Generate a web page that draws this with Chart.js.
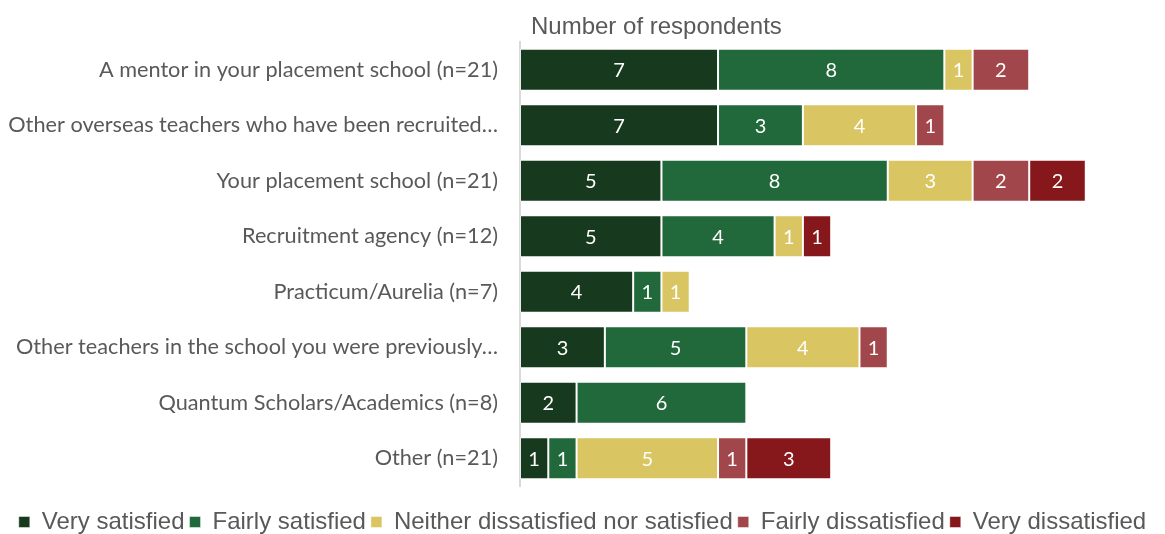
<!DOCTYPE html>
<html>
<head>
<meta charset="utf-8">
<script src="https://cdn.jsdelivr.net/npm/chart.js@4/dist/chart.umd.min.js"></script>
<style>
html,body{margin:0;padding:0;background:#fff;}
#wrap{width:1165px;height:534px;position:relative;}
</style>
</head>
<body>
<div id="wrap"><canvas id="c" width="1165" height="534"></canvas></div>
<script>
const categories = [
  "A mentor in your placement school (n=21)",
  "Other overseas teachers who have been recruited…",
  "Your placement school (n=21)",
  "Recruitment agency (n=12)",
  "Practicum/Aurelia (n=7)",
  "Other teachers in the school you were previously…",
  "Quantum Scholars/Academics (n=8)",
  "Other (n=21)"
];
const seriesNames = ["Very satisfied","Fairly satisfied","Neither dissatisfied nor satisfied","Fairly dissatisfied","Very dissatisfied"];
const verySatisfied    = [7,7,5,5,4,3,2,1];
const fairlySatisfied  = [8,3,8,4,1,5,6,1];
const neither          = [1,4,3,1,1,4,0,5];
const fairlyDissat     = [2,1,2,0,0,1,0,1];
const veryDissat       = [0,0,2,1,0,0,0,3];
const axisTitle = "Number of respondents";

const colors = ["#173a1e","#21683a","#d9c562","#a1474c","#86171a"];
const seriesData = [verySatisfied, fairlySatisfied, neither, fairlyDissat, veryDissat];

const labelPlugin = {
  id: 'segLabels',
  afterDatasetsDraw(chart) {
    const ctx = chart.ctx;
    ctx.save();
    ctx.fillStyle = '#ffffff';
    ctx.font = '20px Lato, "Open Sans", sans-serif';
    ctx.textAlign = 'center';
    ctx.textBaseline = 'middle';
    chart.data.datasets.forEach((ds, i) => {
      const meta = chart.getDatasetMeta(i);
      meta.data.forEach((el, j) => {
        const v = ds.data[j];
        if (!v) return;
        const x = (el.x + el.base) / 2;
        ctx.fillText(String(v), x, el.y + 1);
      });
    });
    ctx.restore();
  }
};
const titlePlugin = {
  id: 'topTitle',
  beforeDraw(chart) {
    if (chart.legend && !chart.legend._shifted) {
      chart.legend.top += 10;
      chart.legend.bottom += 10;
      chart.legend._shifted = true;
    }
  },
  afterLayout(chart) {
    if (chart.legend) chart.legend._shifted = false;
  },
  afterDraw(chart) {
    const ctx = chart.ctx;
    ctx.save();
    ctx.fillStyle = '#595959';
    ctx.font = '24px "Liberation Sans", Arial, sans-serif';
    ctx.textAlign = 'left';
    ctx.textBaseline = 'middle';
    ctx.fillText(axisTitle, chart.chartArea.left + 11, 27);
    ctx.restore();
  }
};

new Chart(document.getElementById('c'), {
  type: 'bar',
  data: {
    labels: categories,
    datasets: seriesNames.map((n, i) => ({
      label: n,
      data: seriesData[i],
      backgroundColor: colors[i],
      borderColor: 'rgba(255,255,255,0.45)',
      borderWidth: 1,
      borderSkipped: false,
      barPercentage: 0.95,
      categoryPercentage: 0.8
    }))
  },
  options: {
    indexAxis: 'y',
    responsive: false,
    animation: false,
    layout: { padding: { top: 42, right: 0, left: 0, bottom: 0 } },
    scales: {
      x: {
        stacked: true, display: true, min: 0, max: 22.8,
        grid: { display: false, drawTicks: false },
        border: { display: false },
        ticks: { display: false },
        afterFit(scale) { scale.height = 9; }
      },
      y: {
        stacked: true,
        grid: { display: false, drawTicks: false },
        border: { display: true, color: '#d9d9d9', width: 2 },
        ticks: { color: '#595959', font: { family: 'Lato, "Open Sans", sans-serif', size: 21.7 }, padding: 22, autoSkip: false },
        afterFit(scale) { scale.width = 520; }
      }
    },
    plugins: {
      legend: {
        position: 'bottom',
        labels: {
          color: '#595959',
          font: { family: '"Liberation Sans", Arial, sans-serif', size: 24 },
          boxWidth: 11, boxHeight: 11,
          padding: 5
        }
      },
      tooltip: { enabled: false }
    }
  },
  plugins: [labelPlugin, titlePlugin]
});
</script>
</body>
</html>
